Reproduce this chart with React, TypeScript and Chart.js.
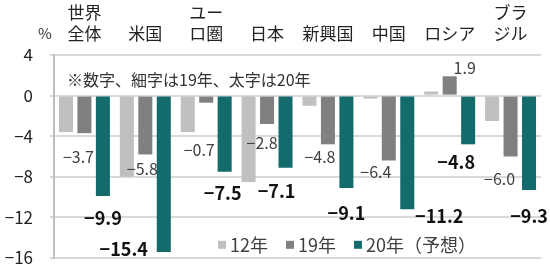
import React, { useEffect, useRef } from "react";
import { Chart, registerables } from "chart.js";

Chart.register(...registerables);

const categories: string[][] = [
  ["世界", "全体"],
  ["米国"],
  ["ユー", "ロ圏"],
  ["日本"],
  ["新興国"],
  ["中国"],
  ["ロシア"],
  ["ブラ", "ジル"],
];
const seriesNames = ["12年", "19年", "20年（予想）"];
const values12 = [-3.6, -8.0, -3.6, -8.5, -1.0, -0.3, 0.4, -2.5];
const values19 = [-3.7, -5.8, -0.7, -2.8, -4.8, -6.4, 1.9, -6.0];
const values20 = [-9.9, -15.4, -7.5, -7.1, -9.1, -11.2, -4.8, -9.3];
const yTicks = [4, 0, -4, -8, -12, -16];
const noteText = "※数字、細字は19年、太字は20年";

// label offsets (px) relative to bar end, layout only
const offsets19: [number, number][] = [
  [-6, 24], [-3, 14], [-7, 47], [-5, 19], [-8, 13], [-13, 11], [15, -8], [-11, 22],
];
const offsets20: [number, number][] = [
  [0, 22], [-40, -3], [-2, 21], [-9, 23], [0, 25], [32, 7], [-12, 18], [0, 26],
];

const colors = ["#c0c0c0", "#808080", "#146b6c"];
const FONT = "'Noto Sans CJK JP', 'Noto Sans', sans-serif";

const fmt = (v: number) => (v < 0 ? "−" + Math.abs(v).toFixed(1) : v.toFixed(1));

const extrasPlugin = {
  id: "extras",
  afterDatasetsDraw(chart: any) {
    const ctx = chart.ctx;
    const area = chart.chartArea;
    ctx.save();
    ctx.textAlign = "center";
    ctx.textBaseline = "middle";
    // data labels
    const m1 = chart.getDatasetMeta(1);
    const m2 = chart.getDatasetMeta(2);
    ctx.font = `16px ${FONT}`;
    ctx.fillStyle = "#404040";
    m1.data.forEach((el: any, i: number) => {
      const [dx, dy] = offsets19[i];
      ctx.fillText(fmt(values19[i]), el.x + dx, el.y + dy);
    });
    ctx.font = `bold 18px ${FONT}`;
    ctx.fillStyle = "#111111";
    m2.data.forEach((el: any, i: number) => {
      const [dx, dy] = offsets20[i];
      ctx.fillText(fmt(values20[i]), el.x + dx, el.y + dy);
    });
    // note
    ctx.textAlign = "left";
    ctx.font = `16px ${FONT}`;
    ctx.fillStyle = "#333333";
    ctx.fillText(noteText, area.left + 13, chart.scales.y.getPixelForValue(1.5));
    // percent sign
    ctx.textAlign = "center";
    ctx.font = `15px ${FONT}`;
    ctx.fillStyle = "#333333";
    ctx.fillText("%", 45, 33);
    // legend
    const ly = chart.scales.y.getPixelForValue(-14.7);
    let lx = area.left + 164;
    ctx.font = `18px ${FONT}`;
    ctx.textAlign = "left";
    chart.data.datasets.forEach((ds: any, i: number) => {
      ctx.fillStyle = ds.backgroundColor;
      ctx.fillRect(lx, ly - 4, 8, 8);
      ctx.fillStyle = "#404040";
      ctx.fillText(ds.label, lx + 12, ly);
      lx += 12 + ctx.measureText(ds.label).width + 18;
    });
    ctx.restore();
  },
};

export default function App() {
  const ref = useRef<HTMLCanvasElement>(null);
  useEffect(() => {
    if (!ref.current) return;
    const chart = new Chart(ref.current, {
      type: "bar",
      data: {
        labels: categories as any,
        datasets: [values12, values19, values20].map((d, i) => ({
          label: seriesNames[i],
          data: d,
          backgroundColor: colors[i],
          categoryPercentage: 0.91,
          barPercentage: 0.76,
        })),
      },
      options: {
        animation: false,
        responsive: true,
        maintainAspectRatio: false,
        layout: { padding: { left: 0, right: 9, top: 0, bottom: 8 } },
        plugins: {
          legend: { display: false },
          tooltip: { enabled: false },
        },
        scales: {
          x: {
            position: "top",
            grid: { display: false, drawTicks: false },
            border: { display: false },
            ticks: {
              color: "#222222",
              font: { family: FONT, size: 17, lineHeight: 1.25 },
              padding: 11,
              maxRotation: 0,
              autoSkip: false,
            },
            afterFit(scale: any) {
              scale.height = 55;
            },
          },
          y: {
            min: -16,
            max: 4,
            afterBuildTicks(scale: any) {
              scale.ticks = yTicks.map((v) => ({ value: v }));
            },
            grid: {
              color: "#d9d9d9",
              lineWidth: 2,
              tickLength: 4,
              drawTicks: true,
            },
            border: { display: true, color: "#bfbfbf", width: 2 },
            ticks: {
              color: "#222222",
              font: { family: FONT, size: 17, lineHeight: 1 },
              padding: 17,
              callback: (v: any) => (Number(v) < 0 ? "−" + Math.abs(Number(v)) : String(v)),
            },
            afterFit(scale: any) {
              scale.width = 54;
              scale.paddingTop = 0;
              scale.paddingBottom = 0;
            },
          },
        },
      },
      plugins: [extrasPlugin],
    });
    return () => chart.destroy();
  }, []);
  return (
    <div style={{ position: "fixed", left: 0, top: 0, width: 550, height: 266, background: "#fff" }}>
      <canvas ref={ref} />
    </div>
  );
}
